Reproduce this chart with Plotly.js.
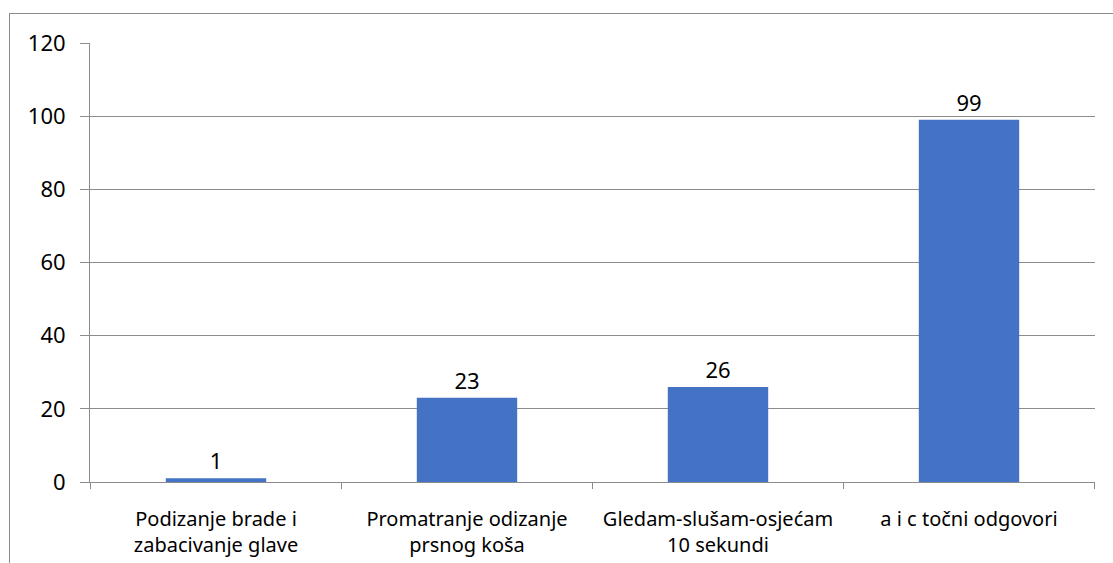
<!DOCTYPE html>
<html>
<head>
<meta charset="utf-8">
<script src="https://cdn.plot.ly/plotly-3.0.1.min.js"></script>
<style>
html,body{margin:0;padding:0;background:#fff;overflow:hidden;}
#frame{position:absolute;left:9px;top:13px;width:1300px;height:700px;border-top:1px solid #8c8c8c;border-left:1px solid #8c8c8c;pointer-events:none;z-index:5;}
#chart{position:absolute;left:0;top:0;width:1113px;height:563px;}
</style>
</head>
<body>
<div id="chart"></div>
<div id="frame"></div>
<script>
const categories = [
  "Podizanje brade i<br>zabacivanje glave",
  "Promatranje odizanje<br>prsnog koša",
  "Gledam-slušam-osjećam<br>10 sekundi",
  "a i c točni odgovori"
];
const values = [1, 23, 26, 99];
const yTicks = [0, 20, 40, 60, 80, 100, 120];

const font = "Noto Sans, Open Sans, sans-serif";

Plotly.newPlot("chart", [{
  type: "bar",
  x: categories,
  y: values,
  marker: {color: "#4472C4"},
  width: 0.4,
  text: values.map(String),
  textposition: "outside",
  cliponaxis: false,
  textfont: {family: font, size: 22, color: "#000"},
  hoverinfo: "skip"
}], {
  width: 1113,
  height: 563,
  margin: {l: 90, r: 18, t: 43, b: 81},
  paper_bgcolor: "#fff",
  plot_bgcolor: "#fff",
  showlegend: false,
  bargap: 0.6,
  xaxis: {
    type: "category",
    showgrid: false,
    showline: true,
    linecolor: "#8c8c8c",
    linewidth: 1,
    ticks: "",
    tickfont: {family: font, size: 20, color: "#000"},
    ticklabelstandoff: 19,
    fixedrange: true
  },
  yaxis: {
    range: [0, 120],
    tickvals: yTicks,
    ticktext: yTicks.map(String),
    showgrid: true,
    gridcolor: "#8c8c8c",
    gridwidth: 1,
    zeroline: false,
    showline: true,
    linecolor: "#8c8c8c",
    linewidth: 1,
    ticks: "outside",
    ticklen: 9,
    tickcolor: "#8c8c8c",
    tickfont: {family: font, size: 22, color: "#000"},
    ticklabelstandoff: 10,
    fixedrange: true
  },
  shapes: [0,1,2,3,4].map(i => ({
    type: "line", xref: "x", yref: "paper",
    x0: i - 0.5, x1: i - 0.5, y0: 0, y1: -0.016,
    line: {color: "#8c8c8c", width: 1}
  }))
}, {staticPlot: true});
</script>
</body>
</html>
